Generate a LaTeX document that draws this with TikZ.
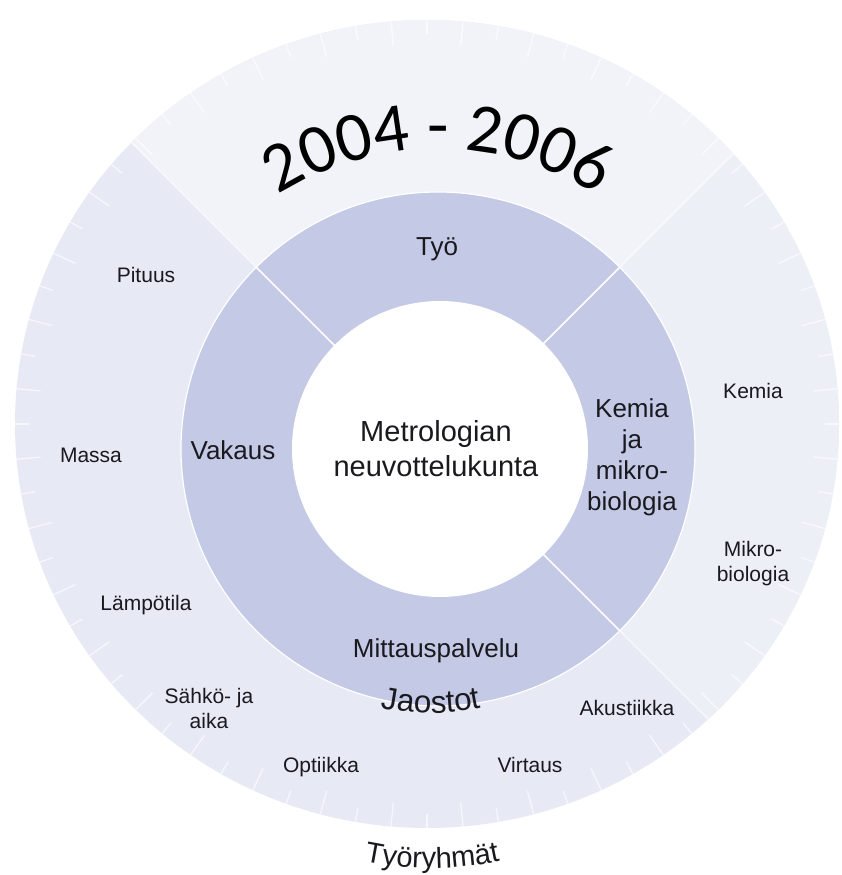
\documentclass[tikz,border=0pt]{standalone}
\usepackage{fontspec}
\setmainfont{Liberation Sans}
\newfontfamily\yearfont{Carlito}
\usetikzlibrary{calc}
\definecolor{ringpurple}{RGB}{196,201,230}
\definecolor{outerbase}{RGB}{231,234,245}
\definecolor{outertop}{RGB}{242,243,249}
\definecolor{outerright}{RGB}{237,239,247}
\definecolor{labeltext}{RGB}{25,25,30}
\begin{document}
\begin{tikzpicture}[x=1pt,y=1pt,
  grp/.style={font=\fontsize{21}{25}\selectfont, align=center, text=labeltext, inner sep=0pt},
  sect/.style={font=\fontsize{26}{31}\selectfont, align=center, text=labeltext, inner sep=0pt},
  yearchar/.style={font=\yearfont\fontsize{70}{84}\selectfont, text=black, inner sep=0pt, anchor=base},
  jaochar/.style={font=\fontsize{31.5}{36}\selectfont, text=labeltext, inner sep=0pt, anchor=base},
  tyochar/.style={font=\fontsize{29}{34}\selectfont, text=labeltext, inner sep=0pt, anchor=base},
  divider/.style={white, line width=1.6pt},
  faintdivider/.style={white, line width=1.3pt, opacity=.7},
  rimtick/.style={white, line width=1.3pt, opacity=.65},
]
\useasboundingbox (0,0) rectangle (841,875);
\fill[white] (0,0) rectangle (841,875);
\coordinate (C) at (438,426);
\coordinate (O) at (427,451);
% outer ring (working groups)
\begin{scope}
  \clip (O) ellipse [x radius=412, y radius=404];
  \fill[outerbase] (0,0) rectangle (841,875);
  \fill[outertop] (C) -- ++(45:700) -- ++(180:990) -- cycle;
  \fill[outerright] (C) -- ++(45:700) -- ++(270:990) -- cycle;
  \foreach \a in {45,135,315}{
    \draw[faintdivider] ($(C)+(\a:257)$) -- ($(C)+(\a:480)$);
  }
\end{scope}
% rim ticks
\foreach \a [count=\i] in {0,5,...,355}{
  \pgfmathsetmacro{\tl}{ifthenelse(mod(\i,2)==0,24,14)}
  \draw[rimtick] ($(O)+(\a:412 and 404)$) -- ($(O)+(\a:{412-\tl} and {404-\tl})$);
}
% middle ring (sections)
\fill[ringpurple] (C) circle[radius=257];
\draw[white, line width=1.2pt] (C) circle[radius=257];
\foreach \a in {45,135,315}{
  \draw[divider] ($(C)+(\a:140)$) -- ($(C)+(\a:257)$);
}
% inner circle
\fill[white] (440,426) circle[radius=148];

% texts
\node[font=\fontsize{29}{35}\selectfont, align=center, text=labeltext] (mnk) at (436,426) {Metrologian\\neuvottelukunta};
\node[sect, anchor=base] (tyo) at (437,619) {Työ};
\node[sect, anchor=base] (vakaus) at (233,415) {Vakaus};
\node[sect] (kemiamb) at (632,418) {Kemia\\ja\\mikro-\\biologia};
\node[sect, anchor=base] (mittaus) at (436,217) {Mittauspalvelu};

\node[grp, anchor=base] (pituus) at (146,592) {Pituus};
\node[grp, anchor=base] (massa) at (91,412) {Massa};
\node[grp, anchor=base] (lampo) at (146,264) {Lämpötila};
\node[grp] (sahko) at (209,167) {Sähkö- ja\\aika};
\node[grp, anchor=base] (optiikka) at (321,102) {Optiikka};
\node[grp, anchor=base] (virtaus) at (530,102) {Virtaus};
\node[grp, anchor=base] (akust) at (627,159) {Akustiikka};
\node[grp] (mikrob) at (753,311) {Mikro-\\biologia};
\node[grp, anchor=base] (kemia) at (753,476) {Kemia};

% curved title "2004 - 2006" (letters placed along an arc)
\foreach \ch/\ang [count=\i] in {2/118.79,0/112.01,0/105.23,4/98.46,-/90,2/81.54,0/74.77,0/67.99,6/61.21}{
  \node[yearchar, rotate=\ang-90] (yr\i) at ($(C)+(\ang:300)$) {\ch};
}
% curved "Jaostot"
\foreach \ch/\off [count=\i] in {J/-9.311,a/-5.702,o/-1.900,s/1.709,t/4.369,o/7.219,t/10.070}{
  \node[jaochar, rotate=\off] (ja\i) at ($(431,426)+(270+\off:264)$) {\ch};
}
% curved "Työryhmät"
\foreach \ch/\off [count=\i] in {T/-10.35,y/-7.555,ö/-4.897,r/-2.659,y/-0.561,h/2.097,m/5.594,ä/9.091,t/11.19}{
  \node[tyochar, rotate=\off] (ty\i) at ($(432,337)+(270+\off:330)$) {\ch};
}
\end{tikzpicture}
\end{document}
